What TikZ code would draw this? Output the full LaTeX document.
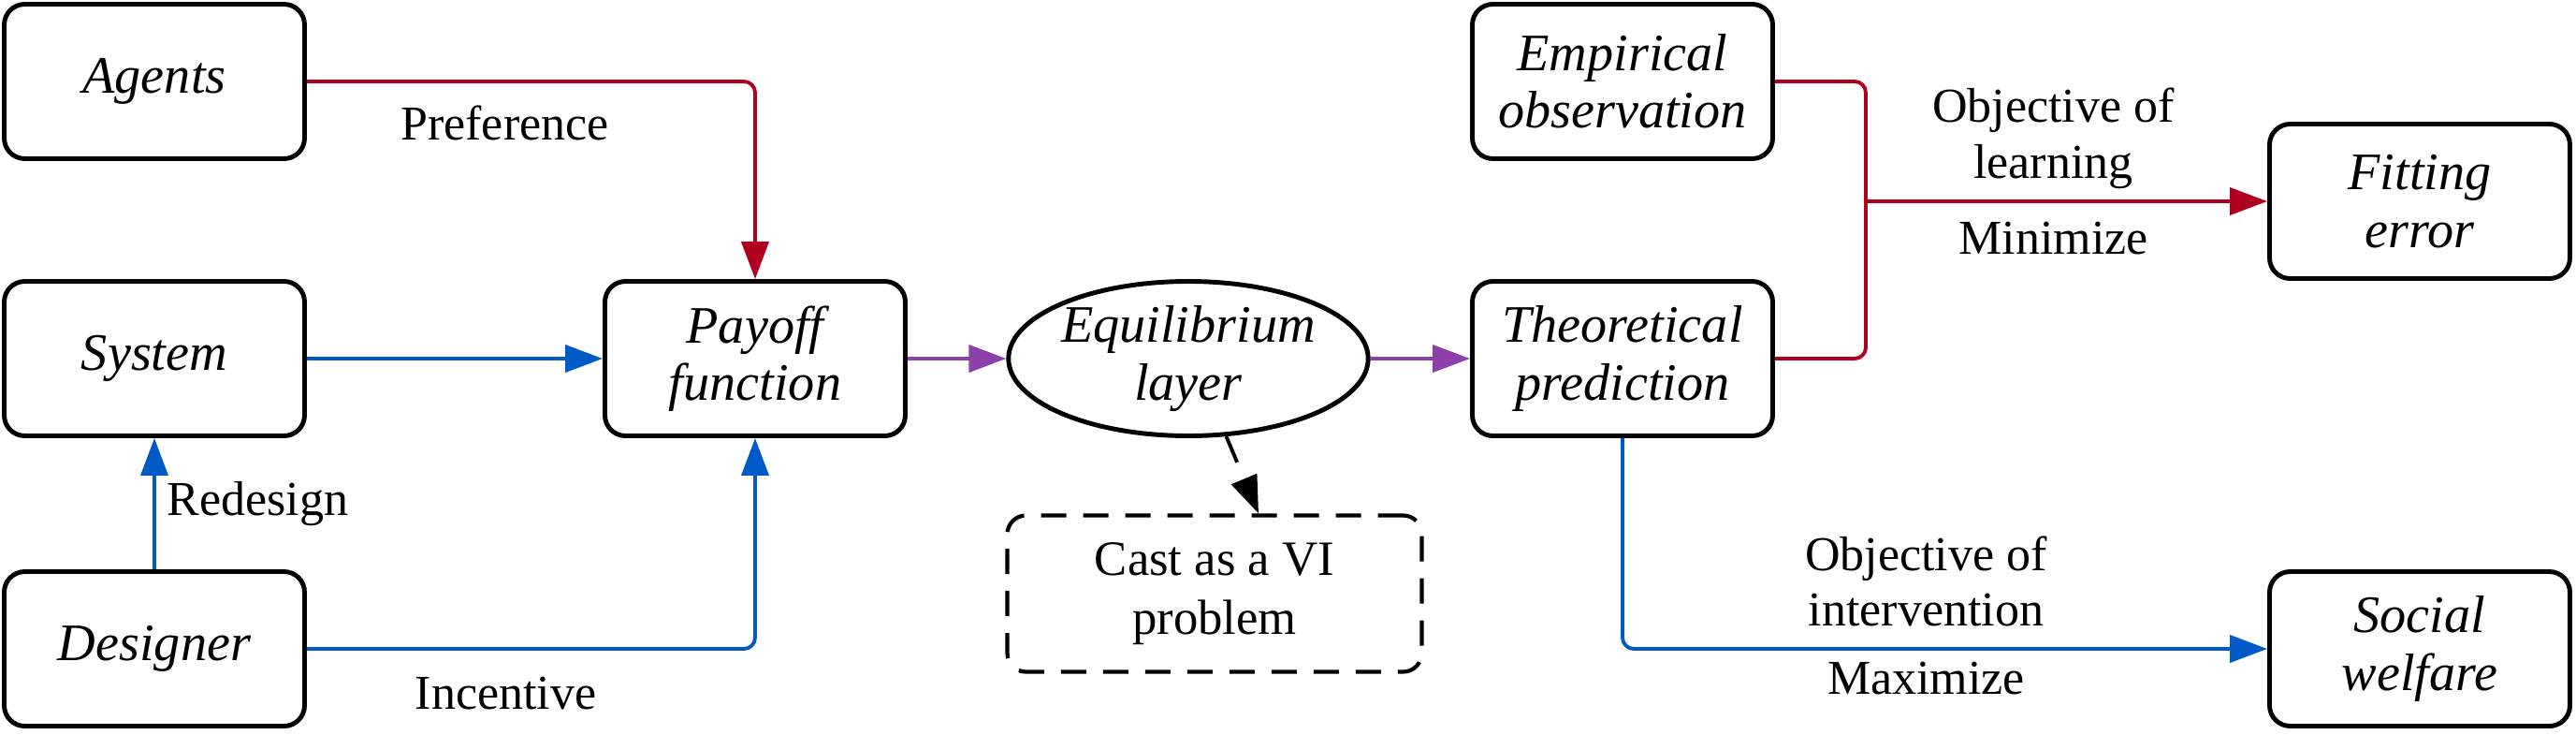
\documentclass[tikz,border=0pt]{standalone}
\usepackage{fontspec}
\setmainfont{Liberation Serif}
\newfontfamily\timesfont{Liberation Serif}
\usetikzlibrary{arrows.meta,shapes.geometric}

\definecolor{prefred}{RGB}{176,0,32}
\definecolor{desblue}{RGB}{0,90,200}
\definecolor{eqpurple}{RGB}{142,64,170}

\begin{document}
\begin{tikzpicture}[
obj/.style={draw,line width=1.4pt,rounded corners=0.22cm,minimum width=3.21cm,minimum height=1.65cm,align=center,font=\timesfont\fontsize{16}{17.5}\selectfont\itshape},
eqobj/.style={draw,ellipse,line width=1.4pt,minimum width=3.8cm,minimum height=1.65cm,inner sep=0pt,align=center,font=\timesfont\fontsize{16}{17.5}\selectfont\itshape},
castobj/.style={draw,dash pattern=on 0.27cm off 0.18cm,line width=1.2pt,rounded corners=0.2cm,minimum width=4.43cm,minimum height=1.67cm,align=center,font=\timesfont\fontsize{15}{18}\selectfont},
arrowlabel/.style={text=black,align=center,font=\timesfont\fontsize{14.8}{17}\selectfont},
arrow/.style={-{Triangle[length=0.4cm,width=0.29cm]},line width=1.1pt},
elbow/.style={rounded corners=0.12cm}
]
\useasboundingbox (0,0) rectangle (27.53,7.84);

\node[obj] (agents) at (1.65,6.97) {Agents};
\node[obj] (system) at (1.65,4.01) {System};
\node[obj] (designer) at (1.65,0.91) {Designer};
\node[obj] (payoff) at (8.07,4.01) {Payoff\\function};
\node[eqobj] (eq) at (12.70,4.01) {Equilibrium\\layer};
\node[castobj] (cast) at (12.98,1.50) {Cast as a VI\\problem};
\node[obj] (theo) at (17.34,4.01) {Theoretical\\prediction};
\node[obj] (emp) at (17.34,6.97) {Empirical\\observation};
\node[obj] (fit) at (25.86,5.69) {Fitting\\error};
\node[obj] (soc) at (25.86,0.91) {Social\\welfare};
\coordinate (junc) at (19.94,5.69);

\draw[arrow,prefred,elbow] (agents) -| node[arrowlabel,pos=0.25,below,xshift=-0.28cm,yshift=-0.12cm] {Preference} (payoff);
\draw[arrow,desblue] (system) -- (payoff);
\draw[arrow,desblue] (designer) -- node[arrowlabel,right] {Redesign} (system);
\draw[arrow,desblue,elbow] (designer) -| node[arrowlabel,pos=0.25,below,xshift=-0.27cm,yshift=-0.16cm] {Incentive} (payoff);

\draw[arrow,eqpurple] (payoff) -- (eq);
\draw[arrow,eqpurple] (eq) -- (theo);
\draw[arrow,dash pattern=on 0.3cm off 0.2cm] (eq.-64) -- ([xshift=0.47cm]cast.north);

\draw[line width=1.1pt,prefred,elbow] (emp) -| (junc) |- (theo);
\draw[arrow,prefred] (junc) -- node[arrowlabel,above,xshift=-0.14cm] {Objective of\\learning} node[arrowlabel,below,xshift=-0.14cm,yshift=-0.08cm] {Minimize} (fit);
\draw[arrow,desblue,elbow] (theo) |- node[arrowlabel,pos=0.75,above,xshift=-0.2cm,yshift=0.1cm] {Objective of\\intervention} node[arrowlabel,pos=0.75,below,xshift=-0.2cm] {Maximize} (soc);

\end{tikzpicture}
\end{document}
